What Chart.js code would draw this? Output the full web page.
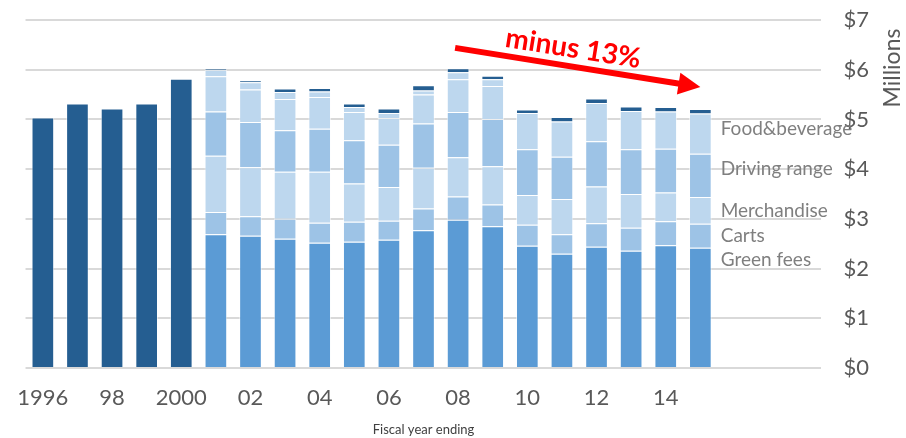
<!DOCTYPE html>
<html>
<head>
<meta charset="utf-8">
<title>Golf course revenue by fiscal year</title>
<script src="https://cdn.jsdelivr.net/npm/chart.js@4.4.1/dist/chart.umd.min.js"></script>
<style>
  html, body { margin: 0; padding: 0; background: #ffffff; }
  #wrap { width: 906px; height: 438px; }
</style>
</head>
<body>
<div id="wrap"><canvas id="revenue" width="906" height="438"></canvas></div>
<script>
// Fiscal years on the category axis (the last three slots stay empty)
const years = ['1996','1997','1998','1999','2000','2001','2002','2003','2004','2005','2006','2007',
               '2008','2009','2010','2011','2012','2013','2014','2015','2016','2017','2018'];
const tickLabels = ['1996','','98','','2000','','02','','04','','06','','08','','10','','12','','14','','','',''];

// Total revenue before the breakdown was reported, $ millions (FY1996-FY2000)
const totalRevenue = [5.04, 5.32, 5.22, 5.32, 5.82];

// Revenue by source, $ millions (FY2001-FY2015)
const greenFees    = [2.69, 2.66, 2.60, 2.52, 2.54, 2.58, 2.77, 2.98, 2.85, 2.46, 2.30, 2.44, 2.36, 2.47, 2.42];
const carts        = [0.45, 0.39, 0.40, 0.40, 0.40, 0.38, 0.44, 0.47, 0.44, 0.42, 0.39, 0.47, 0.46, 0.48, 0.48];
const merchandise  = [1.13, 0.99, 0.95, 1.03, 0.77, 0.68, 0.82, 0.79, 0.77, 0.60, 0.71, 0.74, 0.68, 0.58, 0.54];
const drivingRange = [0.89, 0.91, 0.83, 0.86, 0.87, 0.85, 0.89, 0.91, 0.95, 0.92, 0.85, 0.91, 0.90, 0.88, 0.87];
const foodBeverage = [0.71, 0.65, 0.63, 0.64, 0.57, 0.54, 0.58, 0.66, 0.66, 0.73, 0.71, 0.77, 0.77, 0.75, 0.81];
const otherIncome  = [0.13, 0.15, 0.14, 0.11, 0.10, 0.10, 0.08, 0.14, 0.14, null, null, null, null, null, null];
const miscIncome   = [0.03, 0.04, 0.07, 0.07, 0.07, 0.09, 0.11, 0.08, 0.07, 0.07, 0.09, 0.09, 0.09, 0.09, 0.09];

const yTicks = [0, 1, 2, 3, 4, 5, 6, 7];

// Place a series on the full year axis
const early = (vals) => vals.concat(new Array(years.length - vals.length).fill(null));
const late = (vals) => new Array(5).fill(null).concat(vals, new Array(years.length - 5 - vals.length).fill(null));

const DARK = '#255e91';
const MID = '#5b9bd5';
const SOFT = '#9dc3e6';
const PALE = '#bdd7ee';
const FONT = 'Lato, "Open Sans", sans-serif';

function barSet(label, data, color) {
  return {
    label, data, backgroundColor: color,
    borderColor: 'rgba(255,255,255,0.55)', borderWidth: 1,
    categoryPercentage: 1, barPercentage: 0.655
  };
}

const datasets = [
  barSet('Total', early(totalRevenue), DARK),
  barSet('Green fees', late(greenFees), MID),
  barSet('Carts', late(carts), SOFT),
  barSet('Merchandise', late(merchandise), PALE),
  barSet('Driving range', late(drivingRange), SOFT),
  barSet('Food&beverage', late(foodBeverage), PALE),
  barSet('Other', late(otherIncome), PALE),
  barSet('Misc', late(miscIncome), DARK)
];

// Series names written beside the last bar, with the value level of each baseline
const sideLabels = [
  { text: 'Food&beverage', level: 4.69 },
  { text: 'Driving range', level: 3.88 },
  { text: 'Merchandise', level: 3.04 },
  { text: 'Carts', level: 2.54 },
  { text: 'Green fees', level: 2.06 }
];

const overlay = {
  id: 'overlay',
  afterDatasetsDraw(chart) {
    const { ctx, scales: { x, y } } = chart;
    ctx.save();

    // Series names next to the FY2015 bar
    const lastBar = chart.getDatasetMeta(1).data[19];
    const lx = lastBar.x + lastBar.width / 2 + 9;
    ctx.font = '19px ' + FONT;
    ctx.fillStyle = '#7f7f7f';
    ctx.textAlign = 'left';
    ctx.textBaseline = 'alphabetic';
    sideLabels.forEach(l => ctx.fillText(l.text, lx, y.getPixelForValue(l.level)));

    // Trend arrow from FY2008 to FY2015
    const x0 = x.getPixelForValue(12) - 3, y0 = y.getPixelForValue(6.44);
    const x1 = x.getPixelForValue(19), y1 = y.getPixelForValue(5.65);
    const ang = Math.atan2(y1 - y0, x1 - x0);
    const head = 22, half = 11;
    const bx = x1 - head * Math.cos(ang), by = y1 - head * Math.sin(ang);
    ctx.strokeStyle = '#ff0000';
    ctx.fillStyle = '#ff0000';
    ctx.lineWidth = 6;
    ctx.beginPath();
    ctx.moveTo(x0, y0);
    ctx.lineTo(bx + Math.cos(ang), by + Math.sin(ang));
    ctx.stroke();
    ctx.beginPath();
    ctx.moveTo(x1, y1);
    ctx.lineTo(bx + half * Math.sin(ang), by - half * Math.cos(ang));
    ctx.lineTo(bx - half * Math.sin(ang), by + half * Math.cos(ang));
    ctx.closePath();
    ctx.fill();

    // Arrow caption
    const t = 0.47;
    const mx = x0 + (x1 - x0) * t, my = y0 + (y1 - y0) * t;
    ctx.translate(mx + 18 * Math.sin(ang), my - 18 * Math.cos(ang));
    ctx.rotate(ang);
    ctx.font = 'bold 28px ' + FONT;
    ctx.textAlign = 'center';
    ctx.textBaseline = 'middle';
    ctx.fillText('minus 13%', 0, 0);
    ctx.restore();

    // Unit title beside the value axis, reading upward
    ctx.save();
    ctx.translate(893, 68);
    ctx.rotate(-Math.PI / 2);
    ctx.font = '23px ' + FONT;
    ctx.fillStyle = '#595959';
    ctx.textAlign = 'center';
    ctx.textBaseline = 'middle';
    ctx.fillText('Millions', 0, 0);
    ctx.restore();
  }
};

new Chart(document.getElementById('revenue'), {
  type: 'bar',
  data: { labels: years, datasets },
  plugins: [overlay],
  options: {
    responsive: false,
    animation: false,
    devicePixelRatio: 1,
    layout: { padding: { left: 15, right: 33, top: 20, bottom: 0 } },
    plugins: { legend: { display: false }, tooltip: { enabled: false } },
    scales: {
      x: {
        stacked: true,
        grid: { display: false, drawTicks: false },
        border: { display: false },
        ticks: {
          autoSkip: false, maxRotation: 0, padding: 17,
          color: '#595959', font: { family: FONT, size: 22 },
          callback: (v, i) => tickLabels[i]
        },
        title: {
          display: true, text: 'Fiscal year ending', color: '#404040',
          font: { family: FONT, size: 13 }, padding: { top: -6, bottom: 0 }
        }
      },
      y: {
        stacked: true,
        position: 'right',
        min: 0, max: 7,
        afterBuildTicks: (axis) => { axis.ticks = yTicks.map(v => ({ value: v })); },
        grid: { color: '#d9d9d9', lineWidth: 2, drawTicks: true, tickLength: 18, tickColor: 'rgba(0,0,0,0)' },
        border: { display: false },
        ticks: {
          padding: 4, color: '#595959', font: { family: FONT, size: 22 },
          callback: (v) => '$' + v
        }
      }
    }
  }
});
</script>
</body>
</html>
